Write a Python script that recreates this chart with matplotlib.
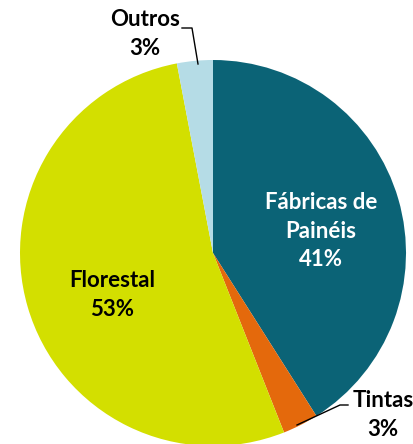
import matplotlib
matplotlib.use('Agg')
import matplotlib.pyplot as plt

# share of each sector
labels = ['Fábricas de\nPainéis', 'Tintas', 'Florestal', 'Outros']
shares = [41, 3, 53, 3]
colors = ['#0B6376', '#E4690C', '#D3DF00', '#B5DCE6']

W, H = 413, 444
fig = plt.figure(figsize=(W / 100, H / 100), dpi=100)
ax = fig.add_axes([0, 0, 1, 1])

cx, cy, r = 213, H - 253, 193
ax.pie(shares, colors=colors, startangle=90, counterclock=False,
       center=(cx, cy), radius=r, frame=True,
       wedgeprops=dict(linewidth=0))
ax.set_xlim(0, W)
ax.set_ylim(0, H)
ax.set_aspect('auto')
ax.axis('off')

font = dict(family='Lato', fontweight='bold', fontsize=16, ha='center', va='center',
            linespacing=1.42)

def pix(x, y):
    return x, H - y

ax.text(*pix(321, 231), f'{labels[0]}\n{shares[0]}%', color='white', **font)
ax.text(*pix(112, 295), f'{labels[2]}\n{shares[2]}%', color='black', **font)
ax.text(*pix(145, 34), f'{labels[3]}\n{shares[3]}%', color='black', **font)
ax.text(*pix(383, 415), f'{labels[1]}\n{shares[1]}%', color='black', **font)

# leader lines for the small slices
ax.plot(*zip(pix(182, 28), pix(192, 28), pix(198, 64)), color='black', lw=1)
ax.plot(*zip(pix(297, 425), pix(340, 405), pix(348, 405)), color='black', lw=1)

fig.savefig('out.png', dpi=100)
